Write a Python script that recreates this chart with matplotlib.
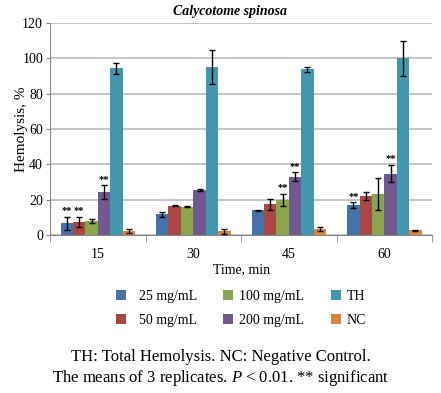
import matplotlib
matplotlib.use('Agg')
import matplotlib.pyplot as plt
import numpy as np

# data
times = ['15', '30', '45', '60']
series = ['25 mg/mL', '50 mg/mL', '100 mg/mL', '200 mg/mL', 'TH', 'NC']
means = [
    [6.6, 11.8, 13.9, 16.9],    # 25 mg/mL
    [7.5, 16.5, 17.3, 22.0],    # 50 mg/mL
    [8.1, 16.0, 19.9, 23.3],    # 100 mg/mL
    [24.2, 25.4, 33.1, 34.8],   # 200 mg/mL
    [94.3, 95.0, 93.8, 100.0],  # TH
    [2.2, 2.1, 3.3, 2.6],       # NC
]
errs = [
    [3.7, 1.4, 0.3, 1.6],
    [2.8, 0.3, 3.3, 2.3],
    [1.2, 0.2, 3.5, 9.1],
    [4.0, 0.4, 2.4, 5.0],
    [3.0, 9.8, 1.3, 10.0],
    [1.0, 1.4, 1.0, 0.3],
]
# which bars carry "**"
signif = [
    [1, 0, 0, 1],
    [1, 0, 0, 0],
    [0, 0, 1, 0],
    [1, 0, 1, 1],
    [0, 0, 0, 0],
    [0, 0, 0, 0],
]
colors = ['#4672A8', '#AA4643', '#89A54E', '#71588F', '#4198AF', '#DB843D']

plt.rcParams['font.family'] = ['Liberation Serif', 'DejaVu Serif']
plt.rcParams['mathtext.fontset'] = 'custom'
plt.rcParams['mathtext.rm'] = 'Liberation Serif'
plt.rcParams['mathtext.it'] = 'Liberation Serif:italic'

fig = plt.figure(figsize=(4.41, 3.93), dpi=100)
ax = fig.add_axes([0.1134, 0.402, 0.8666, 0.5395])

x = np.arange(len(times))
w = 0.13
bars = []
for j in range(len(series)):
    pos = x + (j - 2.5) * w
    b = ax.bar(pos, means[j], w, color=colors[j], zorder=2)
    bars.append(b)
    ax.errorbar(pos, means[j], yerr=errs[j], fmt='none', ecolor='black',
                elinewidth=1, capsize=2.5, capthick=1, zorder=3)
    for i in range(len(times)):
        if signif[j][i]:
            ax.text(pos[i], means[j][i] + errs[j][i] + 0.8, '**', ha='center',
                    va='bottom', fontsize=7.5, fontweight='bold')

ax.set_xlim(-0.5, 3.5)
ax.set_ylim(0, 120)
ax.set_yticks(range(0, 121, 20))
ax.set_xticks(x)
ax.set_xticklabels(times)
ax.set_xticks(np.arange(-0.5, 3.6, 1), minor=True)
ax.tick_params(axis='x', which='major', length=0, pad=9, labelsize=10)
ax.tick_params(axis='x', which='minor', length=5, color='#888888')
ax.tick_params(axis='y', length=3, color='#888888', labelsize=10, pad=2)
ax.grid(axis='y', color='#bbbbbb', linewidth=1.2, zorder=0)
ax.set_axisbelow(True)
for s in ['top', 'right']:
    ax.spines[s].set_visible(False)
ax.spines['left'].set_color('#888888')
ax.spines['bottom'].set_color('#888888')

ax.set_title('Calycotome spinosa', fontsize=10, fontweight='bold', style='italic',
             pad=6, x=0.47)
ax.set_ylabel('Hemolysis, %', fontsize=11, labelpad=-4)
ax.set_xlabel('Time, min', fontsize=10, labelpad=2)

# first legend column has extra space before the text, like the original
leg_labels = ['  ' + s if j < 2 else s for j, s in enumerate(series)]
ax.legend(bars, leg_labels, loc='upper center', bbox_to_anchor=(0.5, -0.2), ncol=3,
          frameon=False, fontsize=10, handlelength=0.7, handleheight=0.7,
          columnspacing=1.9, handletextpad=0.45, labelspacing=0.8)

fig.text(0.5, 0.092, 'TH: Total Hemolysis. NC: Negative Control.', ha='center',
         va='center', fontsize=12)
fig.text(0.5, 0.038, r'The means of 3 replicates. $\mathit{P}$ < 0.01. ** significant',
         ha='center', va='center', fontsize=12)

fig.savefig('out.png', dpi=100)
